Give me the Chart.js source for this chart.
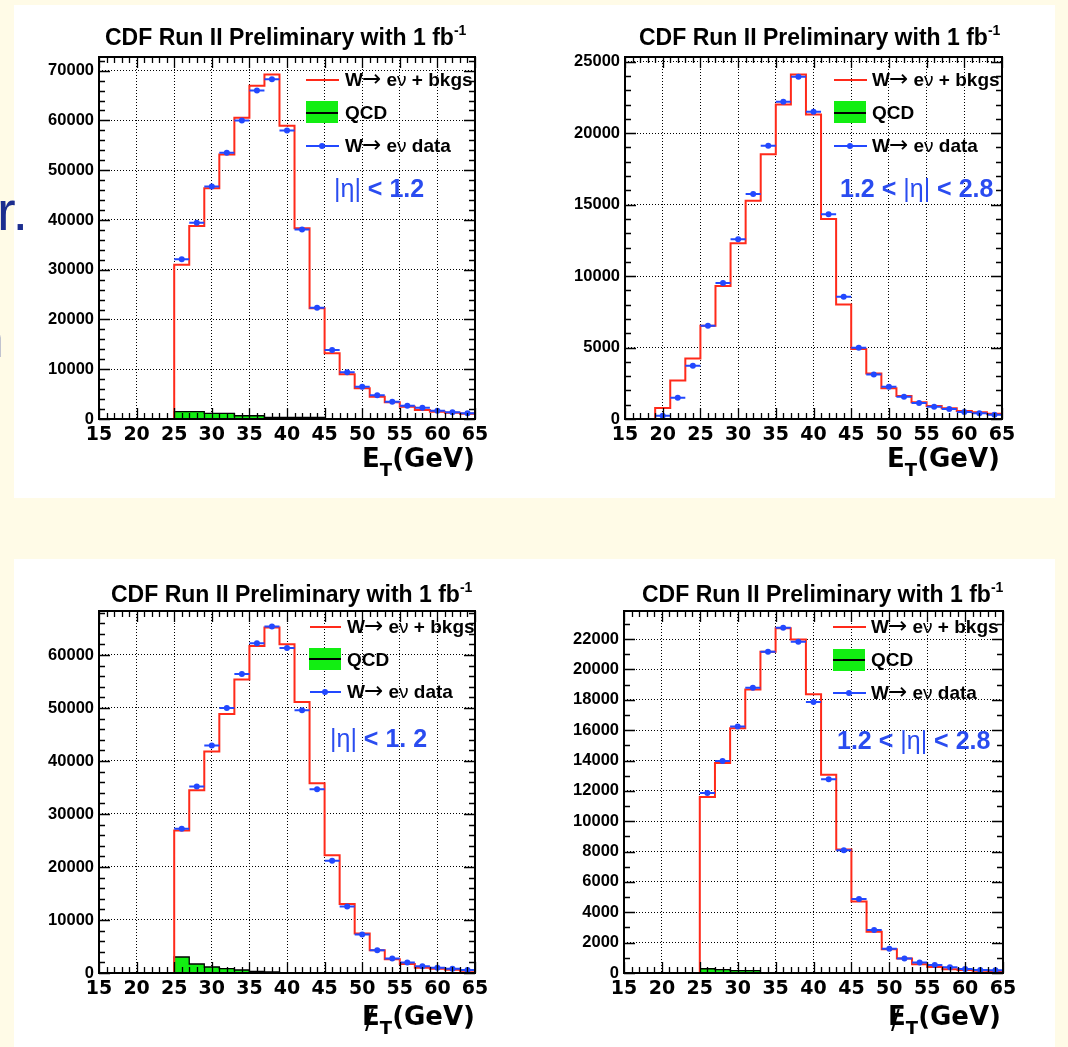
<!DOCTYPE html>
<html><head><meta charset="utf-8">
<script src="https://cdn.jsdelivr.net/npm/chart.js@4.4.1/dist/chart.umd.min.js"></script>
<style>
html,body{margin:0;padding:0;}
body{background:#fffbe7;width:1068px;height:1047px;overflow:hidden;position:relative;font-family:"Liberation Sans",Arial,sans-serif;}
.band{position:absolute;background:#fff;}
canvas{position:absolute;}
.t{position:absolute;white-space:nowrap;line-height:1;color:#000;}
.title{font-weight:bold;font-size:23px;}
.title sup{font-size:14px;vertical-align:0;position:relative;top:-10px;line-height:0;}
.leg{font-weight:bold;font-size:19px;}
.thin{font-weight:normal;}
.arr{font-family:"DejaVu Sans",sans-serif;font-weight:normal;font-size:23px;line-height:0;margin-left:-1px;}
.ann{font-weight:bold;font-size:25px;color:#2a4cf0;}
.axt{font-family:"DejaVu Sans",sans-serif;font-weight:bold;font-size:26px;}
.axt sub{font-size:18px;vertical-align:0;position:relative;top:9px;line-height:0;}
.met{position:relative;display:inline-block;}
.met .sl{position:absolute;left:3px;top:4px;font-weight:normal;font-size:26px;}
.slide{position:absolute;font-family:"Liberation Sans",Arial,sans-serif;font-size:56px;color:#1b2d8f;line-height:1;white-space:nowrap;}
.lr{position:absolute;height:2px;background:#ff2a1a;}
.lb{position:absolute;height:2px;background:#2248ff;}
.dot{position:absolute;width:6px;height:6px;border-radius:3px;background:#2248ff;}
.gb{position:absolute;background:#12ee12;}
.gl{position:absolute;height:2px;background:#000;}
</style></head>
<body>
<div class="band" style="left:14px;top:5px;width:1041px;height:493px"></div>
<div class="band" style="left:14px;top:559px;width:1041px;height:488px"></div>
<div class="slide" style="right:1040px;top:183px">r.</div>
<div class="slide" style="right:1064px;top:310px">n</div>

<canvas id="c1" width="476" height="432" style="left:19px;top:42px"></canvas>
<canvas id="c2" width="477" height="432" style="left:545px;top:42px"></canvas>
<canvas id="c3" width="476" height="432" style="left:19px;top:596px"></canvas>
<canvas id="c4" width="479" height="432" style="left:544px;top:596px"></canvas>

<!-- titles -->
<div class="t title" style="left:105px;top:25.5px">CDF Run II Preliminary with 1 fb<sup>-1</sup></div>
<div class="t title" style="left:639px;top:25.5px">CDF Run II Preliminary with 1 fb<sup>-1</sup></div>
<div class="t title" style="left:111px;top:582.5px">CDF Run II Preliminary with 1 fb<sup>-1</sup></div>
<div class="t title" style="left:642px;top:582.5px">CDF Run II Preliminary with 1 fb<sup>-1</sup></div>

<!-- legends panel 1 -->
<div class="lr" style="left:306px;top:79px;width:33px"></div>
<div class="t leg" style="left:345px;top:70px">W<span class="arr">→</span> e<span class="thin">ν</span> + bkgs</div>
<div class="gb" style="left:306px;top:101px;width:32px;height:22px"></div>
<div class="gl" style="left:306px;top:112px;width:32px"></div>
<div class="t leg" style="left:345px;top:103px">QCD</div>
<div class="lb" style="left:306px;top:145px;width:33px"></div>
<div class="dot" style="left:319px;top:143px"></div>
<div class="t leg" style="left:345px;top:136px">W<span class="arr">→</span> e<span class="thin">ν</span> data</div>
<div class="t ann" style="left:334px;top:176px"><span class="thin">|η|</span> &lt; 1.2</div>

<!-- legends panel 2 -->
<div class="lr" style="left:834px;top:79px;width:33px"></div>
<div class="t leg" style="left:872px;top:70px">W<span class="arr">→</span> e<span class="thin">ν</span> + bkgs</div>
<div class="gb" style="left:834px;top:101px;width:32px;height:22px"></div>
<div class="gl" style="left:834px;top:112px;width:32px"></div>
<div class="t leg" style="left:872px;top:103px">QCD</div>
<div class="lb" style="left:834px;top:145px;width:33px"></div>
<div class="dot" style="left:847px;top:143px"></div>
<div class="t leg" style="left:872px;top:136px">W<span class="arr">→</span> e<span class="thin">ν</span> data</div>
<div class="t ann" style="left:840px;top:176px">1.2 &lt; <span class="thin">|η|</span> &lt; 2.8</div>

<!-- legends panel 3 -->
<div class="lr" style="left:310px;top:626px;width:31px"></div>
<div class="t leg" style="left:347px;top:617px">W<span class="arr">→</span> e<span class="thin">ν</span> + bkgs</div>
<div class="gb" style="left:309px;top:648px;width:32px;height:22px"></div>
<div class="gl" style="left:309px;top:658px;width:32px"></div>
<div class="t leg" style="left:347px;top:650px">QCD</div>
<div class="lb" style="left:310px;top:691px;width:31px"></div>
<div class="dot" style="left:322px;top:689px"></div>
<div class="t leg" style="left:347px;top:682px">W<span class="arr">→</span> e<span class="thin">ν</span> data</div>
<div class="t ann" style="left:330px;top:726px"><span class="thin">|η|</span> &lt; 1. 2</div>

<!-- legends panel 4 -->
<div class="lr" style="left:833px;top:626px;width:33px"></div>
<div class="t leg" style="left:871px;top:617px">W<span class="arr">→</span> e<span class="thin">ν</span> + bkgs</div>
<div class="gb" style="left:833px;top:649px;width:32px;height:22px"></div>
<div class="gl" style="left:833px;top:659px;width:32px"></div>
<div class="t leg" style="left:871px;top:650px">QCD</div>
<div class="lb" style="left:833px;top:692px;width:33px"></div>
<div class="dot" style="left:846px;top:690px"></div>
<div class="t leg" style="left:871px;top:683px">W<span class="arr">→</span> e<span class="thin">ν</span> data</div>
<div class="t ann" style="left:837px;top:728px">1.2 &lt; <span class="thin">|η|</span> &lt; 2.8</div>

<!-- axis titles -->
<div class="t axt" style="right:593px;top:445px">E<sub>T</sub>(GeV)</div>
<div class="t axt" style="right:68px;top:445px">E<sub>T</sub>(GeV)</div>
<div class="t axt" style="right:593px;top:1003px"><span class="met">E<span class="sl">/</span></span><sub>T</sub>(GeV)</div>
<div class="t axt" style="right:67px;top:1003px"><span class="met">E<span class="sl">/</span></span><sub>T</sub>(GeV)</div>

<script>
// ---------- data ----------
// bin edges (GeV)
const edgesFrom25 = [25,27,29,31,33,35,37,39,41,43,45,47,49,51,53,55,57,59,61,63,65];
const edgesFrom19 = [19,21,23,25,27,29,31,33,35,37,39,41,43,45,47,49,51,53,55,57,59,61,63,65];

// Panel 1: electron E_T, |eta| < 1.2
const etCentralMC   = [31000,38800,46350,53180,60550,66980,69250,58940,38310,22240,13200,8975,6160,4490,3350,2480,1810,1470,1270,1070];
const etCentralData = [32100,39450,46700,53500,60000,66040,68300,58000,38100,22370,13860,9380,6500,4760,3480,2680,2280,1670,1340,1140];
const etCentralQCD  = [1500,1500,1130,1130,650,650,300,300,300,300,0,0,0,0,0,0,0,0,0,0];

// Panel 2: electron E_T, 1.2 < |eta| < 2.8
const etPlugMC   = [770,2700,4240,6530,9300,12290,15270,18520,22010,24110,21310,13990,8020,4900,3190,2150,1610,1170,910,750,560,470,370];
const etPlugData = [230,1490,3730,6530,9510,12570,15740,19120,22200,23950,21500,14320,8560,4990,3120,2260,1560,1120,860,700,490,400,300];
const etPlugQCD  = [0,0,0,0,0,0,0,0,0,0,0,0,0,0,0,0,0,0,0,0,0,0,0];

// Panel 3: missing E_T, |eta| < 1.2
const metCentralMC   = [26900,34490,41770,48860,55380,61710,65190,62030,51140,35820,22220,13040,7470,4300,2600,1710,1010,820,630,440];
const metCentralData = [27200,35190,42910,50000,56390,62220,65380,61330,49560,34680,21200,12530,7280,4300,2720,1960,1270,1010,820,570];
const metCentralQCD  = [3020,1700,1130,820,570,300,190,60,40,30,20,10,0,0,0,0,0,0,0,0];

// Panel 4: missing E_T, 1.2 < |eta| < 2.8
const metPlugMC   = [11600,13830,16120,18670,21160,22710,21980,18360,13060,8130,4710,2720,1570,950,570,400,240,200,155,130];
const metPlugData = [11860,13960,16240,18800,21160,22750,21820,17850,12770,8090,4880,2830,1590,950,685,530,375,265,200,175];
const metPlugQCD  = [280,220,150,150,0,0,0,0,0,0,0,0,0,0,0,0,0,0,0,0];

// tick labels
const xTickValues = [15,20,25,30,35,40,45,50,55,60,65];
const yTicks1 = [0,10000,20000,30000,40000,50000,60000,70000];
const yTicks2 = [0,5000,10000,15000,20000,25000];
const yTicks3 = [0,10000,20000,30000,40000,50000,60000];
const yTicks4 = [0,2000,4000,6000,8000,10000,12000,14000,16000,18000,20000,22000];
const yAxes = {
  c1: {max: 72750, ticks: yTicks1, minor: 2000},
  c2: {max: 25330, ticks: yTicks2, minor: 1000},
  c3: {max: 68300, ticks: yTicks3, minor: 2000},
  c4: {max: 23850, ticks: yTicks4, minor: 1000}
};

// ---------- colours ----------
const RED = '#ff2a1a', BLUE = '#2248ff', GREEN = '#12ee12';

// ---------- helpers ----------
function histPoints(edges, vals){
  const pts = [{x: edges[0], y: 0}];
  vals.forEach((v,i) => pts.push({x: edges[i], y: v}));
  pts.push({x: edges[edges.length-1], y: vals[vals.length-1]});
  return pts;
}
function errPoints(edges, vals){
  const pts = [];
  vals.forEach((v,i) => { pts.push({x: edges[i], y: v}, {x: edges[i+1], y: v}, {x: edges[i+1], y: null}); });
  return pts;
}
function centerPoints(edges, vals){
  return vals.map((v,i) => ({x: (edges[i]+edges[i+1])/2, y: v}));
}

const rootFrame = {
  id: 'rootFrame',
  afterDatasetsDraw(chart, args, opts){
    const {ctx, chartArea: a, scales} = chart;
    const x = scales.x, y = scales.y;
    const majors = new Set(opts.ticks);
    ctx.save();
    ctx.strokeStyle = '#000';
    ctx.lineWidth = 1.3;
    ctx.beginPath();
    for (let v = x.min; v <= x.max + 1e-6; v += 1){
      const px = Math.round(x.getPixelForValue(v)) + 0.5;
      const len = (v % 5) === 0 ? 11 : 6;
      ctx.moveTo(px, a.bottom); ctx.lineTo(px, a.bottom - len);
      ctx.moveTo(px, a.top); ctx.lineTo(px, a.top + len);
    }
    for (let v = 0; v <= y.max; v += opts.minor){
      const py = Math.round(y.getPixelForValue(v)) + 0.5;
      const len = majors.has(v) ? 11 : 6;
      ctx.moveTo(a.left, py); ctx.lineTo(a.left + len, py);
      ctx.moveTo(a.right, py); ctx.lineTo(a.right - len, py);
    }
    ctx.stroke();
    ctx.lineWidth = 2;
    ctx.strokeRect(a.left, a.top, a.right - a.left, a.bottom - a.top);
    ctx.restore();
  }
};

function makeChart(id, edges, mc, data, qcd){
  const ax = yAxes[id];
  return new Chart(document.getElementById(id), {
    type: 'line',
    data: {
      datasets: [
        {label: 'W→eν data', data: centerPoints(edges, data), showLine: false,
         pointRadius: 3, pointHoverRadius: 3, pointBackgroundColor: BLUE, pointBorderColor: BLUE, pointBorderWidth: 0, order: 0},
        {label: 'W→eν data err', data: errPoints(edges, data), borderColor: BLUE, borderWidth: 2,
         pointRadius: 0, spanGaps: false, fill: false, order: 1},
        {label: 'W→eν + bkgs', data: histPoints(edges, mc), borderColor: RED, borderWidth: 2,
         stepped: 'before', pointRadius: 0, fill: false, order: 2},
        {label: 'QCD', data: histPoints(edges, qcd), borderColor: '#000', borderWidth: 1.3,
         backgroundColor: GREEN, stepped: 'before', pointRadius: 0, fill: 'origin', order: 3}
      ]
    },
    options: {
      responsive: false, animation: false, devicePixelRatio: 1,
      layout: {padding: {left: 0, top: 15, right: 20, bottom: 0}},
      plugins: {legend: {display: false}, title: {display: false}, tooltip: {enabled: false},
                rootFrame: {ticks: ax.ticks, minor: ax.minor}},
      scales: {
        x: {type: 'linear', min: 15, max: 65,
            afterBuildTicks: s => { s.ticks = xTickValues.map(v => ({value: v})); },
            afterFit: s => { s.height = 55; },
            grid: {color: '#000', lineWidth: 1, drawTicks: false},
            border: {display: false, dash: [1,2]},
            ticks: {autoSkip: false, maxRotation: 0, padding: 5, color: '#000',
                    font: {family: 'DejaVu Sans', weight: 'bold', size: 19},
                    callback: v => String(v)}},
        y: {type: 'linear', min: 0, max: ax.max,
            afterBuildTicks: s => { s.ticks = ax.ticks.map(v => ({value: v})); },
            afterFit: s => { s.width = 80; },
            grid: {color: '#000', lineWidth: 1, drawTicks: false},
            border: {display: false, dash: [1,2]},
            ticks: {autoSkip: false, padding: 5, color: '#000',
                    font: {family: 'Liberation Sans', weight: 'bold', size: 16.5},
                    callback: v => String(v)}}
      }
    },
    plugins: [rootFrame]
  });
}

makeChart('c1', edgesFrom25, etCentralMC, etCentralData, etCentralQCD);
makeChart('c2', edgesFrom19, etPlugMC, etPlugData, etPlugQCD);
makeChart('c3', edgesFrom25, metCentralMC, metCentralData, metCentralQCD);
makeChart('c4', edgesFrom25, metPlugMC, metPlugData, metPlugQCD);
</script>
</body></html>
